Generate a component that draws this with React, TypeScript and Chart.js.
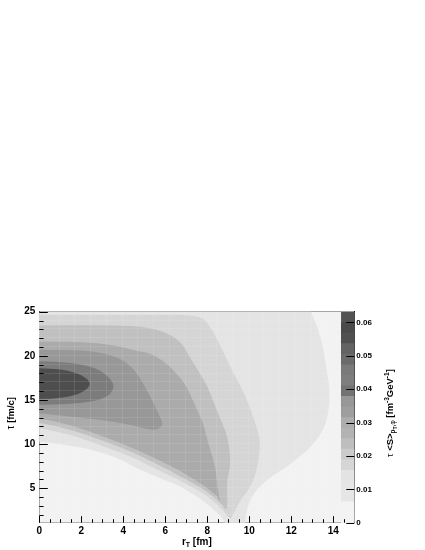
import React, { useEffect, useRef } from 'react';
import { Chart, registerables } from 'chart.js';

Chart.register(...registerables);

type Pt = [number, number];

// axis ranges
const R_RANGE: Pt = [0, 15];
const TAU_RANGE: Pt = [1.1, 25];
const Z_RANGE: Pt = [0, 0.0632];

// tick values
const X_MAJOR = [0, 2, 4, 6, 8, 10, 12, 14];
const X_MINOR = [0.5, 1, 1.5, 2.5, 3, 3.5, 4.5, 5, 5.5, 6.5, 7, 7.5, 8.5, 9, 9.5, 10.5, 11, 11.5, 12.5, 13, 13.5, 14.5];
const Y_MAJOR = [5, 10, 15, 20, 25];
const Y_MINOR = [2, 3, 4, 6, 7, 8, 9, 11, 12, 13, 14, 16, 17, 18, 19, 21, 22, 23, 24];
const Z_TICKS = [0, 0.01, 0.02, 0.03, 0.04, 0.05, 0.06];

// faint bin grid of the underlying histogram
const GRID_R = [0.92, 1.67, 2.42, 3.17, 3.92, 4.67, 5.42, 6.17, 6.92, 7.67, 8.42, 9.17, 9.92, 10.67, 11.42, 12.17, 12.92, 13.67];
const GRID_TAU = [2.1, 3.1, 4.1, 5.1, 6.1, 7.1, 8.1, 9.1, 10.1, 11.1, 12.1, 13.1, 14.1, 15.1, 16.1, 17.1, 18.1, 19.1, 20.1, 21.1, 22.1, 23.1, 24.1];

// contour regions (r_T [fm], tau [fm/c]), outermost (lowest level) first
const CONTOUR_0: Pt[] = [[-1, -1], [16, -1], [16, 27], [-1, 27]];
const CONTOUR_1: Pt[] = [
  [-1, 26], [12.9, 26], [12.95, 25], [13.2, 23.5], [13.45, 21.5], [13.65, 19], [13.8, 16.5], [13.8, 14.5],
  [13.65, 12.5], [13.35, 11.0], [12.95, 9.8], [12.4, 8.6], [11.75, 7.4], [11.0, 6.2], [10.5, 5.2], [10.15, 4.1],
  [9.95, 3.0], [9.85, 2.0], [9.8, 1.0], [9.8, 0], [8.95, 0], [8.85, 1.1], [8.6, 1.9], [8.2, 2.8], [7.6, 3.9],
  [6.7, 5.2], [5.7, 6.2], [4.8, 7.1], [3.7, 8.4], [2.1, 9.55], [0, 10.3], [-1, 10.6],
];
const CONTOUR_2: Pt[] = [
  [-1, 24.65], [6.5, 24.65], [7.3, 24.55], [7.8, 24.2], [8.2, 23.0], [8.5, 21.7], [8.75, 20.5], [9.05, 19.0],
  [9.35, 17.6], [9.7, 16.0], [10.0, 14.3], [10.2, 13.0], [10.4, 11.5], [10.5, 10.1], [10.45, 8.5], [10.3, 6.7],
  [10.0, 5.0], [9.6, 3.7], [9.35, 2.6], [9.2, 1.9], [9.1, 1.6], [8.95, 1.9], [8.75, 2.5], [8.4, 3.3], [7.8, 4.4],
  [6.9, 5.6], [5.7, 7.0], [4.4, 8.5], [3.0, 9.8], [1.5, 11.0], [0, 11.8], [-1, 12.1],
];
const CONTOUR_3: Pt[] = [
  [-1, 23.45], [4.0, 23.4], [5.3, 23.1], [6.2, 22.4], [6.8, 21.3], [7.1, 20.1], [7.6, 18.2], [8.0, 16.5],
  [8.35, 14.5], [8.6, 13.0], [8.9, 11.2], [9.05, 9.3], [9.08, 7.5], [8.95, 5.8], [8.95, 4.3], [8.95, 3.2],
  [8.9, 2.6], [8.75, 3.0], [8.4, 3.8], [7.8, 4.9], [6.9, 6.1], [5.8, 7.5], [4.5, 9.0], [3.0, 10.4], [1.5, 11.6],
  [0, 12.4], [-1, 12.6],
];
const CONTOUR_4: Pt[] = [
  [-1, 21.65], [2.0, 21.55], [3.5, 21.2], [4.5, 20.65], [5.3, 20.2], [6.0, 19.2], [6.6, 17.8], [7.0, 16.5],
  [7.4, 14.5], [7.8, 12.3], [8.0, 10.5], [8.25, 8.5], [8.4, 7.0], [8.45, 6.0], [8.5, 5.0], [8.55, 4.2], [8.6, 3.6],
  [8.45, 4.1], [8.0, 5.0], [7.3, 6.1], [6.5, 7.2], [5.5, 8.4], [4.4, 9.6], [3.0, 10.9], [1.5, 12.1], [0, 12.9],
  [-1, 13.1],
];
const CONTOUR_5: Pt[] = [
  [-1, 20.75], [0, 20.7], [2.0, 20.6], [3.0, 20.3], [3.8, 19.7], [4.35, 18.8], [4.7, 17.8], [5.0, 16.6],
  [5.3, 15.3], [5.6, 13.8], [5.8, 12.8], [5.85, 12.2], [5.65, 11.75], [5.3, 11.65], [4.8, 11.9], [4.3, 12.2],
  [3.0, 12.7], [1.5, 13.1], [0, 13.5], [-1, 13.6],
];
const CONTOUR_6: Pt[] = [
  [-1, 19.45], [0, 19.4], [1.5, 19.2], [2.5, 18.7], [3.15, 17.9], [3.5, 16.9], [3.5, 16.2], [3.2, 15.4],
  [2.5, 14.85], [1.3, 14.55], [0, 14.45], [-1, 14.4],
];
const CONTOUR_7: Pt[] = [
  [-1, 18.65], [0, 18.6], [1.0, 18.45], [1.8, 18.0], [2.25, 17.4], [2.4, 16.85], [2.25, 16.25], [1.8, 15.65],
  [1.0, 15.25], [0, 15.1], [-1, 15.05],
];
const CONTOURS = [CONTOUR_0, CONTOUR_1, CONTOUR_2, CONTOUR_3, CONTOUR_4, CONTOUR_5, CONTOUR_6, CONTOUR_7];
const CONTOUR_COLORS = ['#f2f2f2', '#e4e4e4', '#d5d5d5', '#c0c0c0', '#ababab', '#989898', '#7c7c7c', '#4e4e4e'];

// colour palette (z axis)
const PALETTE_EDGES = [0, 0.00316, 0.00632, 0.00948, 0.01264, 0.0158, 0.01896, 0.02212, 0.02528, 0.02844, 0.0316,
  0.03476, 0.03792, 0.04108, 0.04424, 0.0474, 0.05056, 0.05372, 0.05688, 0.06004, 0.0632];
const PALETTE_COLORS = ['#f3f3f3', '#f3f3f3', '#e6e6e6', '#e6e6e6', '#e3e3e3', '#d6d6d6', '#cbcbcb', '#bebebe',
  '#b3b3b3', '#adadad', '#9e9e9e', '#979797', '#737373', '#7e7e7e', '#7a7a7a', '#6b6b6b', '#636363', '#505050',
  '#4a4a4a', '#535353'];
const PALETTE_R: Pt = [14.37, 15];

const FAMILY = '"Liberation Sans", Arial, Helvetica, sans-serif';

type Seg = { t: string; size: number; dy?: number; bold?: boolean };
const X_TITLE: Seg[] = [{ t: 'r', size: 10 }, { t: 'T', size: 7, dy: 2.5 }, { t: ' [fm]', size: 10 }];
const Y_TITLE: Seg[] = [{ t: 'τ', size: 10, bold: false }, { t: ' [fm/c]', size: 9.5 }];
const Z_TITLE: Seg[] = [
  { t: 'τ', size: 9.5, bold: false }, { t: ' <S>', size: 9.5 }, { t: 'p', size: 6.5, dy: 2.5 },
  { t: 'T', size: 5, dy: 4 }, { t: ',', size: 6.5, dy: 2.5 }, { t: 'φ', size: 6.5, dy: 2.5, bold: false },
  { t: ' [fm', size: 9.5 }, { t: '-3', size: 6.5, dy: -4 }, { t: 'GeV', size: 9.5 }, { t: '-1', size: 6.5, dy: -4 },
  { t: ']', size: 9.5 },
];

function segFont(s: Seg) {
  return `${s.bold === false ? '' : 'bold '}${s.size}px ${FAMILY}`;
}
function drawSegs(ctx: CanvasRenderingContext2D, segs: Seg[], cx: number, base: number) {
  let total = 0;
  for (const s of segs) { ctx.font = segFont(s); total += ctx.measureText(s.t).width; }
  let x = cx - total / 2;
  for (const s of segs) {
    ctx.font = segFont(s);
    ctx.fillText(s.t, x, base + (s.dy || 0));
    x += ctx.measureText(s.t).width;
  }
}

const decor = {
  id: 'decor',
  afterDatasetsDraw(chart: any) {
    const { ctx, chartArea: a, scales } = chart;
    const xs = scales.x, ys = scales.y;
    const xEnd = xs.getPixelForValue(PALETTE_R[0]);
    ctx.save();
    ctx.beginPath();
    ctx.rect(a.left, a.top, xEnd - a.left, a.bottom - a.top);
    ctx.clip();
    ctx.strokeStyle = 'rgba(255,255,255,0.1)';
    ctx.lineWidth = 1;
    ctx.beginPath();
    for (const v of GRID_R) {
      const px = Math.round(xs.getPixelForValue(v)) + 0.5;
      ctx.moveTo(px, a.top); ctx.lineTo(px, a.bottom);
    }
    for (const v of GRID_TAU) {
      const py = Math.round(ys.getPixelForValue(v)) + 0.5;
      ctx.moveTo(a.left, py); ctx.lineTo(xEnd, py);
    }
    ctx.stroke();
    ctx.restore();
  },
  afterDraw(chart: any) {
    const { ctx, chartArea: a, scales } = chart;
    const xs = scales.x, ys = scales.y, zs = scales.y2;
    ctx.save();
    ctx.strokeStyle = '#000';
    ctx.lineWidth = 1;
    ctx.beginPath();
    const bx = (v: number, len: number) => {
      const px = Math.round(xs.getPixelForValue(v)) + 0.5;
      ctx.moveTo(px, a.bottom); ctx.lineTo(px, a.bottom - len);
    };
    const ly = (v: number, len: number) => {
      const py = Math.round(ys.getPixelForValue(v)) + 0.5;
      ctx.moveTo(a.left, py); ctx.lineTo(a.left + len, py);
    };
    X_MAJOR.forEach((v) => bx(v, 6.5));
    X_MINOR.forEach((v) => bx(v, 3.5));
    Y_MAJOR.forEach((v) => ly(v, 8.5));
    Y_MINOR.forEach((v) => ly(v, 4.3));
    Z_TICKS.forEach((v) => {
      const py = Math.round(zs.getPixelForValue(v)) + 0.5;
      ctx.moveTo(a.right, py); ctx.lineTo(a.right - 8, py);
    });
    ctx.stroke();

    ctx.fillStyle = '#000';
    ctx.textAlign = 'left';
    ctx.textBaseline = 'alphabetic';
    drawSegs(ctx, X_TITLE, (a.left + a.right) / 2, a.bottom + 22);

    ctx.save();
    ctx.translate(a.left - 25.5, (a.top + a.bottom) / 2 - 4);
    ctx.rotate(-Math.PI / 2);
    drawSegs(ctx, Y_TITLE, 0, 0);
    ctx.restore();

    ctx.save();
    ctx.translate(a.right + 38.5, (a.top + a.bottom) / 2 - 4);
    ctx.rotate(-Math.PI / 2);
    drawSegs(ctx, Z_TITLE, 0, 0);
    ctx.restore();
    ctx.restore();
  },
};

export default function App() {
  const ref = useRef<HTMLCanvasElement>(null);
  useEffect(() => {
    if (!ref.current) return;
    const tickFont = { family: FAMILY, size: 10, weight: 'bold' as const };
    const contourSets = CONTOURS.map((poly, k) => ({
      type: 'line' as const,
      data: poly.map(([x, y]) => ({ x, y })),
      xAxisID: 'x',
      yAxisID: 'y',
      fill: 'shape' as const,
      backgroundColor: CONTOUR_COLORS[k],
      borderColor: 'transparent',
      borderWidth: 0,
      pointRadius: 0,
      tension: k === 0 ? 0 : 0.35,
      capBezierPoints: false,
      order: 20 - k,
    }));
    const paletteSets = PALETTE_COLORS.map((c, i) => ({
      type: 'line' as const,
      data: [
        { x: PALETTE_R[0], y: PALETTE_EDGES[0] },
        { x: PALETTE_R[1], y: PALETTE_EDGES[0] },
        { x: PALETTE_R[1], y: PALETTE_EDGES[i + 1] },
        { x: PALETTE_R[0], y: PALETTE_EDGES[i + 1] },
      ],
      xAxisID: 'x',
      yAxisID: 'y2',
      fill: 'shape' as const,
      backgroundColor: c,
      borderColor: 'transparent',
      borderWidth: 0,
      pointRadius: 0,
      tension: 0,
      order: i,
    }));
    const chart = new Chart(ref.current, {
      type: 'line',
      data: { datasets: [...contourSets, ...paletteSets] as any },
      options: {
        responsive: false,
        animation: false,
        events: [],
        layout: { padding: { top: 311.7, left: 0, right: 0, bottom: 0 } },
        elements: { line: { capBezierPoints: false } },
        plugins: { legend: { display: false }, tooltip: { enabled: false } },
        scales: {
          x: {
            type: 'linear', position: 'bottom', min: R_RANGE[0], max: R_RANGE[1], z: 1,
            afterBuildTicks: (s: any) => { s.ticks = X_MAJOR.map((v) => ({ value: v })); },
            afterFit: (s: any) => { s.height = 27.3; },
            grid: { display: false, drawTicks: false },
            border: { display: true, color: '#000', width: 1 },
            ticks: { font: tickFont, color: '#000', padding: 3, maxRotation: 0, autoSkip: false, callback: (v: any) => String(v) },
          },
          x2: {
            type: 'linear', position: 'top', min: R_RANGE[0], max: R_RANGE[1], z: 1,
            afterFit: (s: any) => { s.height = 0; },
            grid: { display: false, drawTicks: false },
            border: { display: true, color: '#8a8a8a', width: 1 },
            ticks: { display: false },
          },
          y: {
            type: 'linear', position: 'left', min: TAU_RANGE[0], max: TAU_RANGE[1], z: 1,
            afterBuildTicks: (s: any) => { s.ticks = Y_MAJOR.map((v) => ({ value: v })); },
            afterFit: (s: any) => { s.width = 39.3; },
            grid: { display: false, drawTicks: false },
            border: { display: true, color: '#000', width: 1 },
            ticks: { font: tickFont, color: '#000', padding: 4, autoSkip: false, callback: (v: any) => String(v) },
          },
          y2: {
            type: 'linear', position: 'right', min: Z_RANGE[0], max: Z_RANGE[1], z: 1,
            afterBuildTicks: (s: any) => { s.ticks = Z_TICKS.map((v) => ({ value: v })); },
            afterFit: (s: any) => { s.width = 70.7; },
            grid: { display: false, drawTicks: false },
            border: { display: true, color: '#000', width: 1 },
            ticks: {
              font: { family: FAMILY, size: 8, weight: 'bold' }, color: '#000', padding: 2, autoSkip: false,
              callback: (v: any) => (v === 0 ? '0' : Number(v).toFixed(2)),
            },
          },
        },
      } as any,
      plugins: [decor],
    });
    return () => chart.destroy();
  }, []);
  return (
    <div style={{ position: 'fixed', left: 0, top: 0, width: 425, height: 550 }}>
      <canvas ref={ref} width={425} height={550} style={{ display: 'block', width: 425, height: 550 }} />
    </div>
  );
}
